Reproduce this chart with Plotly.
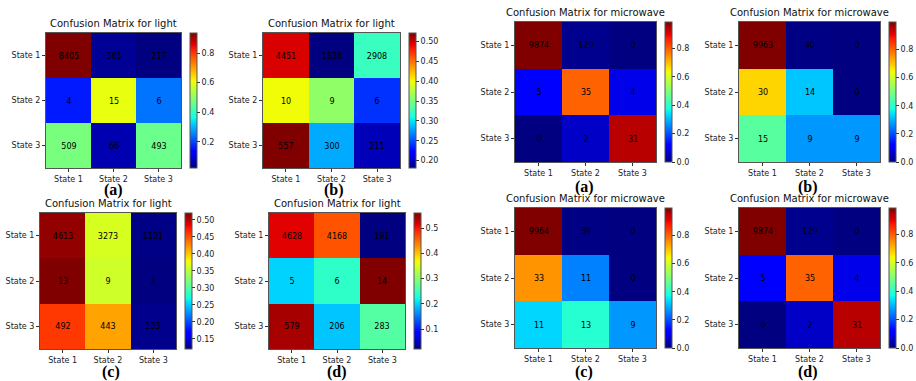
import numpy as np
import plotly.graph_objects as go

W, H = 916, 381

states = ["State 1", "State 2", "State 3"]

# confusion-matrix counts (rows = true state, columns = predicted state)
light_a = [[8405, 365, 217], [4, 15, 6], [509, 66, 493]]
light_b = [[4451, 1628, 2908], [10, 9, 6], [557, 300, 211]]
light_c = [[4613, 3273, 1101], [13, 9, 3], [492, 443, 133]]
light_d = [[4628, 4168, 191], [5, 6, 14], [579, 206, 283]]
micro_a = [[9874, 129, 0], [5, 35, 4], [0, 2, 31]]
micro_b = [[9963, 40, 0], [30, 14, 0], [15, 9, 9]]
micro_c = [[9964, 39, 0], [33, 11, 0], [11, 13, 9]]
micro_d = [[9874, 129, 0], [5, 35, 4], [0, 2, 31]]

panel_letters = ["(a)", "(b)", "(c)", "(d)"]


# matplotlib-style "jet" colormap built from its segment data
def jet_scale(n=65):
    r = ([0, 0.35, 0.66, 0.89, 1], [0, 0, 1, 1, 0.5])
    g = ([0, 0.125, 0.375, 0.64, 0.91, 1], [0, 0, 1, 1, 0, 0])
    b = ([0, 0.11, 0.34, 0.65, 1], [0.5, 1, 1, 0, 0])
    out = []
    for t in np.linspace(0, 1, n):
        cr = np.interp(t, *r)
        cg = np.interp(t, *g)
        cb = np.interp(t, *b)
        out.append([float(t), f"rgb({int(round(cr*255))},{int(round(cg*255))},{int(round(cb*255))})"])
    return out


JET = jet_scale()

# pixel boxes: (x0, x1, y0, y1) of each heatmap, colorbar x-position, tick step/format, letter position
panels = [
    (light_a, "light", (46, 181, 33, 168), 190, 0.2, ".1f", (113, 190)),
    (light_b, "light", (263, 400, 33, 168), 409, 0.05, ".2f", (334, 190)),
    (light_c, "light", (40, 176, 213, 349), 185, 0.05, ".2f", (111, 372)),
    (light_d, "light", (269, 405, 213, 349), 414, 0.1, ".1f", (337, 372)),
    (micro_a, "microwave", (515, 656, 22, 162), 665, 0.2, ".1f", (584, 187)),
    (micro_b, "microwave", (739, 880, 22, 162), 889, 0.2, ".1f", (808, 187)),
    (micro_c, "microwave", (515, 656, 208, 348), 665, 0.2, ".1f", (584, 372)),
    (micro_d, "microwave", (739, 880, 208, 348), 889, 0.2, ".1f", (808, 372)),
]
letters = panel_letters * 2

fx = lambda px: px / W
fy = lambda py: 1 - py / H

fig = go.Figure()
annotations = []
layout_axes = {}

FONT = "DejaVu Sans"

for i, (counts, name, (x0, x1, y0, y1), cbx, dtick, fmt, (lx, ly)) in enumerate(panels):
    k = "" if i == 0 else str(i + 1)
    c = np.array(counts, dtype=float)
    norm = c / c.sum(axis=1, keepdims=True)

    fig.add_trace(go.Heatmap(
        z=norm,
        x=states,
        y=states,
        text=counts,
        texttemplate="%{text}",
        textfont=dict(family=FONT, size=8, color="black"),
        colorscale=JET,
        xaxis="x" + k,
        yaxis="y" + k,
        xgap=0, ygap=0,
        colorbar=dict(
            x=fx(cbx), xanchor="left", xref="paper",
            y=fy(y0), yanchor="top", yref="paper",
            len=(y1 - y0) / H, lenmode="fraction",
            thickness=7, thicknessmode="pixels",
            xpad=0, ypad=0,
            outlinewidth=1, outlinecolor="#555",
            ticks="outside", ticklen=3, tickcolor="#333",
            dtick=dtick, tick0=0, tickformat=fmt,
            tickfont=dict(family=FONT, size=8, color="#222"),
        ),
    ))

    layout_axes["xaxis" + k] = dict(
        domain=[fx(x0), fx(x1)], anchor="y" + k,
        showline=True, mirror=True, linecolor="#555", linewidth=1,
        ticks="outside", ticklen=3, tickcolor="#333",
        tickfont=dict(family=FONT, size=8, color="#222"),
        showgrid=False, zeroline=False, fixedrange=True,
    )
    layout_axes["yaxis" + k] = dict(
        domain=[fy(y1), fy(y0)], anchor="x" + k,
        autorange="reversed",
        showline=True, mirror=True, linecolor="#555", linewidth=1,
        ticks="outside", ticklen=3, tickcolor="#333",
        tickfont=dict(family=FONT, size=8, color="#222"),
        showgrid=False, zeroline=False, fixedrange=True,
    )

    annotations.append(dict(
        text=f"Confusion Matrix for {name}",
        x=fx((x0 + x1) / 2), y=fy(y0 - 2), xref="paper", yref="paper",
        xanchor="center", yanchor="bottom", showarrow=False,
        font=dict(family=FONT, size=10, color="#111"),
    ))
    annotations.append(dict(
        text=f"<b>{letters[i]}</b>",
        x=fx(lx), y=fy(ly), xref="paper", yref="paper",
        xanchor="center", yanchor="middle", showarrow=False,
        font=dict(family="Liberation Serif, Times New Roman, serif", size=16, color="black"),
    ))

fig.update_layout(
    width=W, height=H,
    margin=dict(l=0, r=0, t=0, b=0),
    paper_bgcolor="white", plot_bgcolor="white",
    annotations=annotations,
    showlegend=False,
    **layout_axes,
)

fig.write_html("out.html")
